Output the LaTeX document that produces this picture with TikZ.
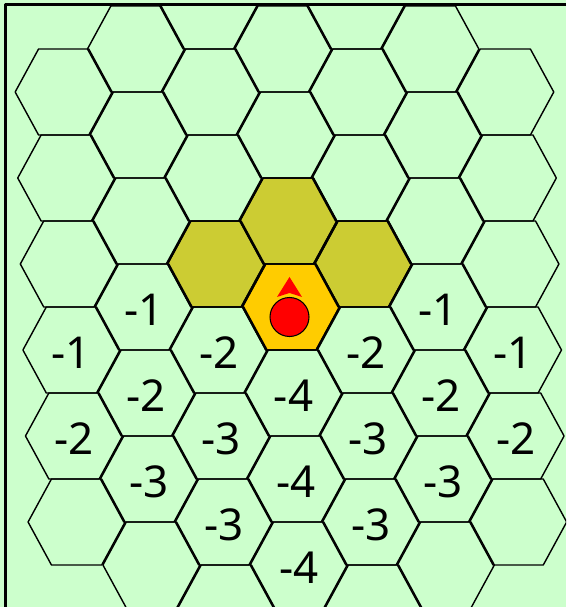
\documentclass[tikz,border=0pt]{standalone}
\usepackage{fontspec}
\usepackage{xcolor}
\usepackage{tikz}
\usetikzlibrary{calc}
\newfontfamily\cellfont{Noto Sans}
\definecolor{bggreen}{HTML}{CCFFCC}
\definecolor{olivecell}{HTML}{CCCC33}
\definecolor{goalcell}{HTML}{FFCC00}
\definecolor{agentred}{HTML}{FF0000}

\begin{document}
\begin{tikzpicture}[x=0.02cm, y=-0.02cm, line join=round]
    \tikzset{
        cell/.style={draw=black, line width=0.8pt},
        hexcell/.pic={\path[pic actions] (-48.5,0) -- (-25.1,-43) -- (25.1,-43) -- (48.5,0) -- (25.1,43) -- (-25.1,43) -- cycle;},
        cost/.style={font=\cellfont\fontsize{25}{28}\selectfont, inner sep=0pt},
        agent/.style={draw, fill=agentred, circle, minimum size=0.78cm, inner sep=0pt, line width=0.6pt}
    }

    % Background
    \useasboundingbox (0,0) rectangle (566,607);
    \fill[bggreen] (0,0) rectangle (566,607);

    \begin{scope}
        \clip (5.5,4.8) rectangle (566,607);
        \begin{scope}[xslant=-0.03]
            % Highlighted cells
            \foreach \c/\cy in {2/264,3/221,4/264}
                \pic[cell, fill=olivecell] at ({60.9+73.6*\c},\cy) {hexcell};
            \pic[cell, fill=goalcell] at ({60.9+73.6*3},307) {hexcell};

            % Grid
            \foreach \c/\jlo/\jhi in {0/1/6,1/0/6,2/0/7,3/0/6,4/0/7,5/0/6,6/1/6}{
                \foreach \j in {\jlo,...,\jhi}{
                    \pgfmathsetmacro\cx{60.9+73.6*\c}
                    \pgfmathsetmacro\cy{6+43*mod(\c,2)+86*\j}
                    \pic[cell] at (\cx,\cy) {hexcell};
                }
            }

            % Costs
            \foreach \c/\cy/\v in {0/350/-1,0/436/-2,1/307/-1,1/393/-2,1/479/-3,
                                   2/350/-2,2/436/-3,2/522/-3,3/393/-4,3/479/-4,3/565/-4,
                                   4/350/-2,4/436/-3,4/522/-3,5/307/-1,5/393/-2,5/479/-3,
                                   6/350/-1,6/436/-2}
                \node[cost] (cost-\c-\cy) at ({60.9+73.6*\c},{\cy+2.5}) {\v};
        \end{scope}
    \end{scope}

    % Agent and heading
    \node[agent] (robot) at (289.5,317) {};
    \fill[agentred] ($(robot.north)+(0,-20)$) -- ($(robot.north)+(12.5,0)$)
        -- ($(robot.north)+(0,-4)$) -- ($(robot.north)+(-12.5,0)$) -- cycle;

    % Frame
    \draw[line width=0.06cm] (566,4.8) -- (5.5,4.8) -- (5.5,607);
\end{tikzpicture}
\end{document}
